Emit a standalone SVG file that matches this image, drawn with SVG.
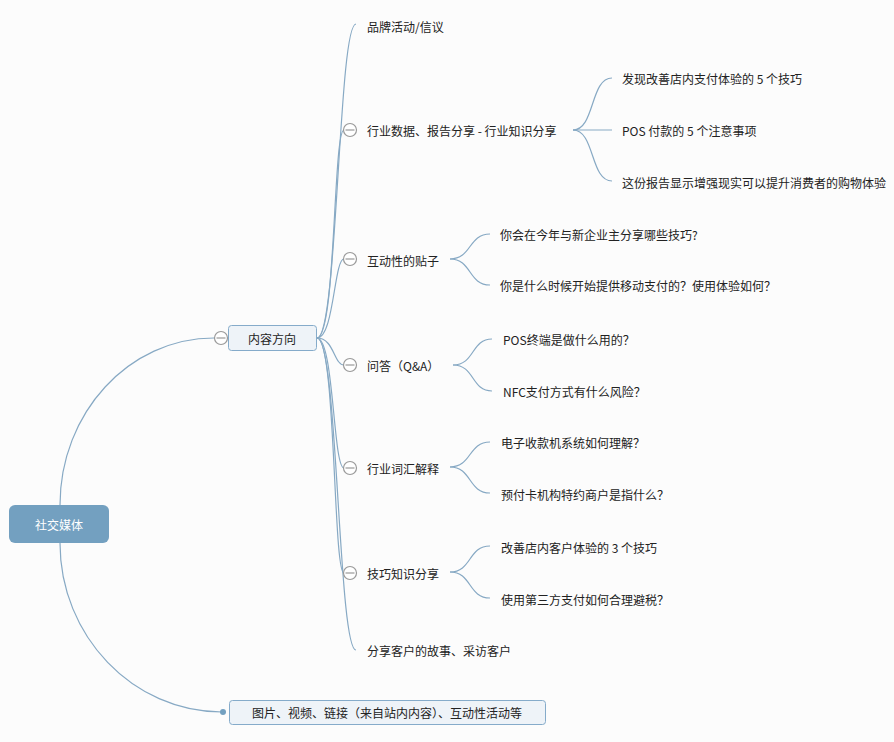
<svg xmlns="http://www.w3.org/2000/svg" width="894" height="742" viewBox="0 0 894 742">
<style>
text{font-family:"Noto Sans CJK SC","Microsoft YaHei",sans-serif;font-size:12px;fill:#222;dominant-baseline:central}
.c{fill:none;stroke:#87a9c4;stroke-width:1.2}
.tog circle{fill:#fff;stroke:#999;stroke-width:1.2}
.tog line{stroke:#999;stroke-width:1.2}
.sub{fill:#eef3f8;stroke:#85abca;stroke-width:1}
</style>
<rect width="894" height="742" fill="#fcfcfc"/>
<g id="connectors">
<path class="c" d="M60,505 C60,413 129,338 214,338"/>
<path class="c" d="M60,543 C60,636 133,712 222,712"/>
<path class="c" d="M317,338 C338,338 338,24 356,24"/>
<path class="c" d="M317,338 C336,338 333,130 344,130"/>
<path class="c" d="M317,338 C334,338 334,259 344,259"/>
<path class="c" d="M317,338 C334,338 334,365 344,365"/>
<path class="c" d="M317,338 C334,338 333,468 344,468"/>
<path class="c" d="M317,338 C336,338 333,573 344,573"/>
<path class="c" d="M317,338 C338,338 338,650 356,650"/>
<path class="c" d="M573,130 C595,130 590,78 612,78"/>
<path class="c" d="M573,130 L612,130"/>
<path class="c" d="M573,130 C595,130 590,181 612,181"/>
<path class="c" d="M450,259 C472,259 468,234 490,234"/>
<path class="c" d="M450,259 C472,259 468,285 490,285"/>
<path class="c" d="M453,365 C475,365 471,339 492,339"/>
<path class="c" d="M453,365 C475,365 471,391 492,391"/>
<path class="c" d="M450,467 C472,467 468,442 490,442"/>
<path class="c" d="M450,467 C472,467 468,493 490,493"/>
<path class="c" d="M450,572 C472,572 468,546 490,546"/>
<path class="c" d="M450,572 C472,572 468,598 490,598"/>
</g>
<g id="root">
<rect x="9" y="505" width="100" height="38" rx="6" fill="#73a0c0"/>
<text x="59" y="524" text-anchor="middle" style="fill:#fff">社交媒体</text>
</g>
<g id="n-content">
<rect class="sub" x="228.5" y="325.5" width="88" height="25" rx="3"/>
<text x="272" y="338" text-anchor="middle">内容方向</text>
<g class="tog"><circle cx="221" cy="338" r="6.5"/><line x1="216.5" y1="338" x2="225.5" y2="338"/></g>
</g>
<g id="n-media">
<rect class="sub" x="229.5" y="700.5" width="316" height="24" rx="3"/>
<circle cx="223" cy="712" r="3" fill="#73a0c0"/>
<text x="387" y="712" text-anchor="middle">图片、视频、链接（来自站内内容）、互动性活动等</text>
</g>
<g id="n-brand"><text x="367" y="26">品牌活动/信议</text></g>
<g id="n-data">
<g class="tog"><circle cx="350" cy="130" r="6.5"/><line x1="345.5" y1="130" x2="354.5" y2="130"/></g>
<text x="367" y="130">行业数据、报告分享 - 行业知识分享</text>
</g>
<g id="n-data-1"><text x="622" y="78">发现改善店内支付体验的 5 个技巧</text></g>
<g id="n-data-2"><text x="622" y="130">POS 付款的 5 个注意事项</text></g>
<g id="n-data-3"><text x="622" y="182">这份报告显示增强现实可以提升消费者的购物体验</text></g>
<g id="n-post">
<g class="tog"><circle cx="350" cy="259" r="6.5"/><line x1="345.5" y1="259" x2="354.5" y2="259"/></g>
<text x="367" y="260">互动性的贴子</text>
</g>
<g id="n-post-1"><text x="500" y="234">你会在今年与新企业主分享哪些技巧?</text></g>
<g id="n-post-2"><text x="500" y="285">你是什么时候开始提供移动支付的？使用体验如何？</text></g>
<g id="n-qa">
<g class="tog"><circle cx="350" cy="365" r="6.5"/><line x1="345.5" y1="365" x2="354.5" y2="365"/></g>
<text x="367" y="365">问答（Q&amp;A）</text>
</g>
<g id="n-qa-1"><text x="503" y="339">POS终端是做什么用的？</text></g>
<g id="n-qa-2"><text x="503" y="391">NFC支付方式有什么风险？</text></g>
<g id="n-term">
<g class="tog"><circle cx="350" cy="468" r="6.5"/><line x1="345.5" y1="468" x2="354.5" y2="468"/></g>
<text x="367" y="468">行业词汇解释</text>
</g>
<g id="n-term-1"><text x="501" y="442">电子收款机系统如何理解？</text></g>
<g id="n-term-2"><text x="501" y="494">预付卡机构特约商户是指什么？</text></g>
<g id="n-tips">
<g class="tog"><circle cx="350" cy="573" r="6.5"/><line x1="345.5" y1="573" x2="354.5" y2="573"/></g>
<text x="367" y="573">技巧知识分享</text>
</g>
<g id="n-tips-1"><text x="501" y="547">改善店内客户体验的 3 个技巧</text></g>
<g id="n-tips-2"><text x="501" y="599">使用第三方支付如何合理避税？</text></g>
<g id="n-story"><text x="367" y="650">分享客户的故事、采访客户</text></g>
</svg>
